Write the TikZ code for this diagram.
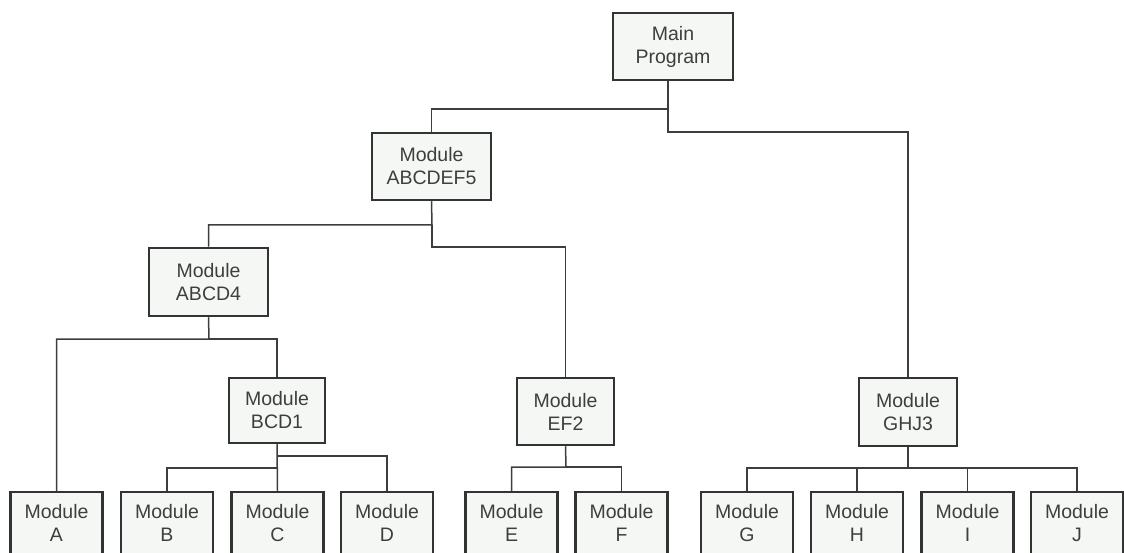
\documentclass[tikz,border=0pt]{standalone}
\usepackage{fontspec}
\setmainfont{Liberation Sans}
\usepackage{xcolor}
\usepackage{tikz}
\usetikzlibrary{positioning}

\definecolor{boxfill}{RGB}{245,247,245}
\definecolor{boxline}{RGB}{50,52,52}
\definecolor{wire}{RGB}{60,62,62}
\definecolor{ink}{RGB}{62,62,62}

\begin{document}
\begin{tikzpicture}[x=1pt,y=-1pt,line width=1.5pt,draw=wire]
                \tikzset{module/.style={draw=boxline, fill=boxfill, line width=2.5pt, text=ink,
                         inner sep=0pt, minimum height=67pt, align=center,
                         font=\fontsize{19.5}{23}\selectfont}}
                \tikzset{leaf/.style={module, minimum width=92pt, text depth=5pt}}

                \useasboundingbox (0,0) rectangle (1124,553);

                \node[module, minimum width=120pt] (main) at (673,46.5) {Main\\Program};
                \node[module, minimum width=119pt] (m5) at (431.5,166.5) {Module\\ABCDEF5};
                \node[module, minimum width=119pt, minimum height=68pt] (m4) at (208.5,282) {Module\\ABCD4};
                \node[module, minimum width=96pt, minimum height=65pt] (m1) at (277,410.5) {Module\\BCD1};
                \node[module, minimum width=97pt] (m2) at (565.5,411.5) {Module\\EF2};
                \node[module, minimum width=98pt, minimum height=68pt] (m3) at (908,412) {Module\\GHJ3};

                \node[leaf] (A) at (56.5,525.5) {Module\\A};
                \node[leaf] (B) at (167,525.5) {Module\\B};
                \node[leaf] (C) at (277.5,525.5) {Module\\C};
                \node[leaf] (D) at (387,525.5) {Module\\D};
                \node[leaf] (E) at (511.5,525.5) {Module\\E};
                \node[leaf] (F) at (621.5,525.5) {Module\\F};
                \node[leaf] (G) at (747,525.5) {Module\\G};
                \node[leaf] (H) at (857,525.5) {Module\\H};
                \node[leaf] (I) at (967.5,525.5) {Module\\I};
                \node[leaf] (J) at (1077,525.5) {Module\\J};

                % junctions
                \coordinate (j1) at (668,109);
                \coordinate (j2) at (668,132);
                \coordinate (j3) at (432,225);
                \coordinate (j4) at (432,247);
                \coordinate (j5) at (209,339);
                \coordinate (j6) at (277,468);
                \coordinate (j7) at (277,456);
                \coordinate (j8) at (566,467);
                \coordinate (j9) at (908,468);

                \draw (main.south -| j1) -- (j1) -| (m5.north);
                \draw (j1) -- (j2) -| (m3.north);
                \draw (m5.south) -- (j3) -| (m4.north);
                \draw (j3) -- (j4) -| (m2.north);
                \draw (m4.south) -- (j5) -| (A.north);
                \draw (j5) -| (m1.north);
                \draw (m1.south) -- (C.north);
                \draw (j6) -| (B.north);
                \draw (j7) -| (D.north);
                \draw (m2.south) -- (j8) -| (E.north);
                \draw (j8) -| (F.north);
                \draw (m3.south) -- (j9);
                \foreach \n in {G,H,I,J}
                    \draw (j9) -| (\n.north);
\end{tikzpicture}
\end{document}
